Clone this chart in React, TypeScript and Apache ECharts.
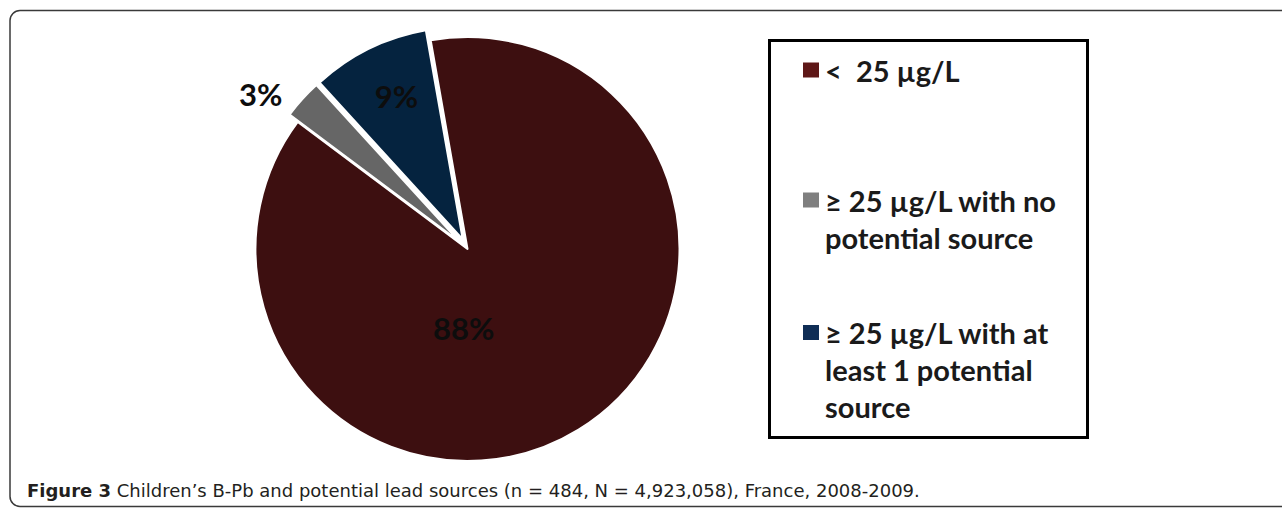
import React, { useEffect, useRef } from "react";
import * as echarts from "echarts";

const CATEGORIES = [
  "< 25 µg/L",
  "≥ 25 µg/L with no potential source",
  "≥ 25 µg/L with at least 1 potential source",
];
const VALUES = [88, 3, 9];
const LEGEND_LINES = [
  ["<  25 µg/L"],
  ["≥ 25 µg/L with no", "potential source"],
  ["≥ 25 µg/L with at", "least 1 potential", "source"],
];
const PIE_COLORS = ["#3d0f10", "#666666", "#05233f"];
const LEGEND_COLORS = ["#5e1717", "#7f7f7f", "#0f2d55"];
const EXPLODED = [false, true, true];
const CAPTION_BOLD = "Figure 3";
const CAPTION_TEXT =
  " Children’s B-Pb and potential lead sources (n = 484, N = 4,923,058), France, 2008-2009.";

// label nudges relative to ECharts' default "inside" label position
const LABEL_SHIFT = [
  [-61, -14],
  [-118, -74],
  [-18, -45],
];
const LEGEND_TOPS = [51.5, 144.5, 240];
const LINE_H = 37;

export default function App() {
  const ref = useRef<HTMLDivElement>(null);
  useEffect(() => {
    const chart = echarts.init(ref.current!, null, { renderer: "svg" });
    const legends = CATEGORIES.map((name, i) => {
      const n = LEGEND_LINES[i].length;
      const blank = new Array(n - 1).fill("").join("\n");
      return {
        orient: "vertical",
        left: 801,
        top: LEGEND_TOPS[i],
        padding: 0,
        itemWidth: 18,
        itemHeight: 17,
        icon: "rect",
        selectedMode: false,
        formatter: () => (n > 1 ? blank + "\n" : "") + LEGEND_LINES[i].join("\n"),
        textStyle: {
          fontFamily: "Lato",
          fontWeight: "bold",
          fontSize: 29,
          color: "#1a1a1a",
          lineHeight: LINE_H,
        },
        data: [{ name, itemStyle: { color: LEGEND_COLORS[i] } }],
      };
    });
    chart.setOption({
      animation: false,
      legend: legends,
      graphic: [
        {
          type: "rect",
          shape: { x: 10, y: 10.5, width: 1320, height: 496, r: 10 },
          style: { fill: "none", stroke: "#3a3a3a", lineWidth: 1.5 },
          silent: true,
        },
        {
          type: "rect",
          shape: { x: 769.5, y: 40.5, width: 318, height: 397 },
          style: { fill: "none", stroke: "#000", lineWidth: 3 },
          silent: true,
        },
        {
          type: "text",
          x: 27,
          y: 490,
          style: {
            text: "{b|" + CAPTION_BOLD + "}{n|" + CAPTION_TEXT + "}",
            verticalAlign: "middle",
            rich: {
              b: { fontFamily: "DejaVu Sans", fontWeight: "bold", fontSize: 18, fill: "#231f20" },
              n: { fontFamily: "DejaVu Sans", fontWeight: "normal", fontSize: 18, fill: "#231f20" },
            },
          },
          silent: true,
        },
      ],
      series: [
        {
          type: "pie",
          center: [467.5, 249],
          radius: [0, 212],
          startAngle: 100,
          clockwise: true,
          selectedMode: "multiple",
          selectedOffset: 11,
          avoidLabelOverlap: false,
          itemStyle: { borderColor: "#ffffff", borderWidth: 2 },
          emphasis: { disabled: true },
          label: {
            show: true,
            position: "inside",
            formatter: "{c}%",
            fontFamily: "Lato",
            fontWeight: "bold",
            fontSize: 31,
            color: "#0d0d0d",
          },
          labelLine: { show: false },
          labelLayout: (p: any) => ({
            dx: LABEL_SHIFT[p.dataIndex][0],
            dy: LABEL_SHIFT[p.dataIndex][1],
          }),
          data: CATEGORIES.map((name, i) => ({
            name,
            value: VALUES[i],
            selected: EXPLODED[i],
            itemStyle: { color: PIE_COLORS[i] },
          })),
        },
      ],
    });
    return () => chart.dispose();
  }, []);
  return (
    <div
      ref={ref}
      style={{ position: "fixed", left: 0, top: 0, width: 1282, height: 508, background: "#fff" }}
    />
  );
}
